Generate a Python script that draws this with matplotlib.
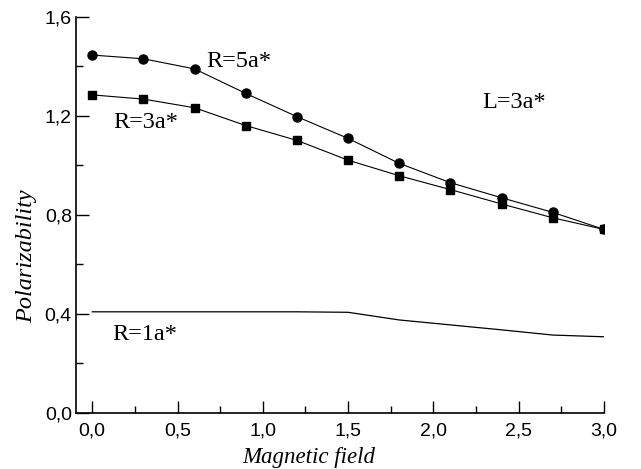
import matplotlib
matplotlib.use("Agg")
import matplotlib.pyplot as plt
from matplotlib.ticker import MultipleLocator, FuncFormatter

field = [0.0, 0.3, 0.6, 0.9, 1.2, 1.5, 1.8, 2.1, 2.4, 2.7, 3.0]
pol_r5 = [1.446, 1.431, 1.390, 1.291, 1.197, 1.109, 1.008, 0.930, 0.869, 0.810, 0.741]
pol_r3 = [1.285, 1.268, 1.233, 1.161, 1.101, 1.021, 0.958, 0.902, 0.844, 0.788, 0.741]
pol_r1 = [0.408, 0.408, 0.408, 0.408, 0.408, 0.406, 0.375, 0.355, 0.335, 0.314, 0.307]

fig = plt.figure(figsize=(6.41, 4.69), dpi=100)
ax = fig.add_axes([0.1186, 0.120, 0.8237, 0.8438])

ax.plot(field, pol_r5, color="black", lw=0.8, marker="o", ms=6.5)
ax.plot(field, pol_r3, color="black", lw=0.8, marker="s", ms=5.6)
ax.plot(field, pol_r1, color="black", lw=0.9)

ax.set_xlim(-0.095, 3.0)
ax.set_ylim(0.0, 1.6)

for s in ["top", "right"]:
    ax.spines[s].set_visible(False)
for s in ["left", "bottom"]:
    ax.spines[s].set_linewidth(1.2)

ax.xaxis.set_major_locator(MultipleLocator(0.5))
ax.xaxis.set_minor_locator(MultipleLocator(0.25))
ax.yaxis.set_major_locator(MultipleLocator(0.4))
ax.yaxis.set_minor_locator(MultipleLocator(0.2))
fmt = FuncFormatter(lambda v, p: f"{v:.1f}".replace(".", ","))
ax.xaxis.set_major_formatter(fmt)
ax.yaxis.set_major_formatter(fmt)
ax.tick_params(which="both", direction="in", width=1.0, labelsize=14,
               top=False, right=False)
ax.tick_params(which="major", length=9)
ax.tick_params(which="minor", length=5)
ax.tick_params(axis="x", which="major", pad=7)
ax.tick_params(axis="y", which="major", pad=3)
for lab in ax.get_xticklabels() + ax.get_yticklabels():
    lab.set_family("Liberation Sans")

serif = "Liberation Serif"
ax.set_xlabel("Magnetic field", family=serif, style="italic", fontsize=16.5, va="center")
ax.xaxis.set_label_coords(0.441, -0.112)
ax.set_ylabel("Polarizability", family=serif, style="italic", fontsize=17.5, va="center")
ax.yaxis.set_label_coords(-0.093, 0.396)

ax.text(0.67, 1.398, "R=5a*", family=serif, fontsize=17.5, ha="left", va="baseline")
ax.text(0.125, 1.151, "R=3a*", family=serif, fontsize=17.5, ha="left", va="baseline")
ax.text(2.285, 1.232, "L=3a*", family=serif, fontsize=17.5, ha="left", va="baseline")
ax.text(0.115, 0.293, "R=1a*", family=serif, fontsize=17.5, ha="left", va="baseline")

fig.savefig("out.png", dpi=100)
